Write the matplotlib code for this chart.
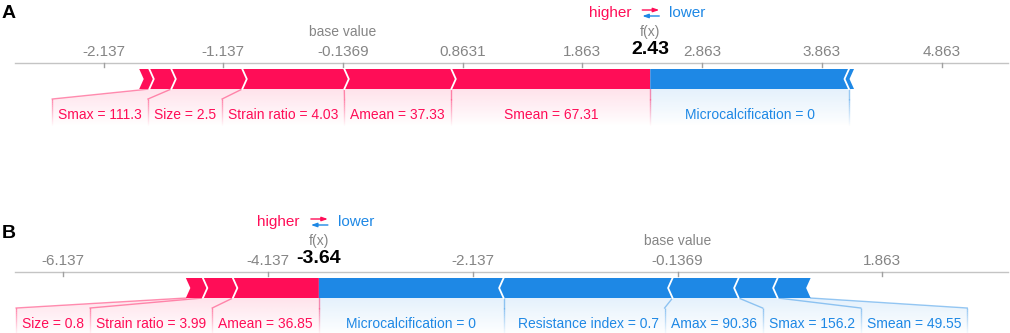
import numpy as np
import matplotlib
matplotlib.use('Agg')
import matplotlib.pyplot as plt
from matplotlib.patches import Polygon
from matplotlib.collections import LineCollection
from matplotlib.colors import to_rgb

plt.rcParams['font.family'] = ['Liberation Sans', 'DejaVu Sans']

RED = '#ff0d57'
BLUE = '#1e88e5'
GRAY = '#858585'

# Panel A: SHAP values, ordered from f(x) outward
a_base = -0.1369
a_fx = 2.43
a_pos_names = ['Smean = 67.31', 'Amean = 37.33', 'Strain ratio = 4.03',
               'Size = 2.5', 'Smax = 111.3', '']
a_pos_vals = [1.662, 0.894, 0.852, 0.593, 0.184, 0.084]
a_neg_names = ['Microcalcification = 0', '']
a_neg_vals = [1.660, 0.042]
a_ticks = [-2.137, -1.137, -0.1369, 0.8631, 1.863, 2.863, 3.863, 4.863]

# Panel B
b_base = -0.1369
b_fx = -3.64
b_pos_names = ['Amean = 36.85', 'Strain ratio = 3.99', 'Size = 0.8']
b_pos_vals = [0.840, 0.293, 0.166]
b_neg_names = ['Microcalcification = 0', 'Resistance index = 0.7',
               'Amax = 90.36', 'Smax = 156.2', 'Smean = 49.55']
b_neg_vals = [1.804, 1.650, 0.645, 0.381, 0.322]
b_ticks = [-6.137, -4.137, -2.137, -0.1369, 1.863]

fig = plt.figure(figsize=(10.1, 3.33), dpi=100)


def px(ax, v):
    return ax.transData.transform((v, 0))[0]


def unpx(ax, p):
    return ax.transData.inverted().transform((p, 0))[0]


def shade(ax, xs, ys, color, y_top, y_bot):
    poly = Polygon(list(zip(xs, ys)), closed=True, fc='none', ec='none')
    ax.add_patch(poly)
    grad = np.zeros((64, 2, 4))
    grad[..., :3] = to_rgb(color)
    grad[..., 3] = np.linspace(0.12, 0, 64)[:, None]
    im = ax.imshow(grad, extent=(min(xs), max(xs), y_bot, y_top), origin='upper',
                   aspect='auto', interpolation='bilinear', zorder=1)
    im.set_clip_path(poly)


def connector(ax, x_bar, x_lab, y_bar, color):
    ax.plot([x_bar, x_lab], [y_bar, y_bar + 10], color=color, alpha=0.45, lw=1, zorder=2)
    ys = np.linspace(y_bar + 10, y_bar + 38, 15)
    segs = [[(x_lab, ys[k]), (x_lab, ys[k + 1])] for k in range(len(ys) - 1)]
    alphas = np.linspace(0.45, 0.0, len(segs))
    cols = [(*to_rgb(color), a) for a in alphas]
    ax.add_collection(LineCollection(segs, colors=cols, lw=1, zorder=2))


def force_plot(ax, y0, base, fx, pos_names, pos_vals, neg_names, neg_vals, ticks):
    renderer = fig.canvas.get_renderer()
    top, bot, mid = y0 + 6, y0 + 26, y0 + 16
    scale = px(ax, 1) - px(ax, 0)
    dv = 4.5 / scale
    gap = 12
    fx_px = px(ax, fx)
    y_lab = y0 + 52
    y_end = bot + 38

    # axis with ticks
    ax.plot([unpx(ax, 15), unpx(ax, 1008)], [y0, y0], color='#c4c4c4', lw=1)
    for t in ticks:
        ax.plot([t, t], [y0, y0 + 4], color='#a0a0a0', lw=1)
        ax.text(t, y0 - 11, f'{t:.4g}', color=GRAY, fontsize=11, ha='center', va='center')

    # header
    ax.text(base, y0 - 31, 'base value', color=GRAY, fontsize=10, ha='center', va='center')
    ax.text(fx, y0 - 31, 'f(x)', color=GRAY, fontsize=10, ha='center', va='center')
    ax.text(fx, y0 - 13, f'{fx:.2f}', color='black', fontsize=14, fontweight='bold',
            ha='center', va='center')
    ax.text(unpx(ax, fx_px - 19), y0 - 50, 'higher', color=RED, fontsize=11,
            ha='right', va='center')
    ax.text(unpx(ax, fx_px + 19), y0 - 50, 'lower', color=BLUE, fontsize=11,
            ha='left', va='center')
    ax.annotate('', xy=(unpx(ax, fx_px + 9), y0 - 53), xytext=(unpx(ax, fx_px - 8), y0 - 53),
                arrowprops=dict(arrowstyle='-|>,head_length=0.35,head_width=0.12',
                                color=RED, lw=1, shrinkA=0, shrinkB=0))
    ax.annotate('', xy=(unpx(ax, fx_px - 8), y0 - 47), xytext=(unpx(ax, fx_px + 9), y0 - 47),
                arrowprops=dict(arrowstyle='-|>,head_length=0.35,head_width=0.12',
                                color=BLUE, lw=1, shrinkA=0, shrinkB=0))

    # red bars (push up, drawn leftwards from f(x))
    red_edges = fx - np.concatenate([[0], np.cumsum(pos_vals)])
    for i in range(len(pos_vals)):
        r, l = red_edges[i], red_edges[i + 1]
        tip = r + dv if i > 0 else r
        ax.add_patch(Polygon([(l, top), (r, top), (tip, mid), (r, bot), (l, bot), (l + dv, mid)],
                             closed=True, fc=RED, ec='none', zorder=3))
        if i > 0:
            ax.plot([r, r + dv, r], [top, mid, bot], color='white', lw=1.3, zorder=4)

    # blue bars (push down, drawn rightwards from f(x))
    blue_edges = fx + np.concatenate([[0], np.cumsum(neg_vals)])
    for i in range(len(neg_vals)):
        l, r = blue_edges[i], blue_edges[i + 1]
        tip = l - dv if i > 0 else l
        ax.add_patch(Polygon([(l, top), (r, top), (r - dv, mid), (r, bot), (l, bot), (tip, mid)],
                             closed=True, fc=BLUE, ec='none', zorder=3))
        if i > 0:
            ax.plot([l, l - dv, l], [top, mid, bot], color='white', lw=1.3, zorder=4)

    # red labels
    prev = fx_px + gap / 2
    red_lab = {}
    for i, name in enumerate(pos_names):
        if not name:
            continue
        t = ax.text(0, y_lab, name, color=RED, fontsize=10, ha='left', va='center')
        w = t.get_window_extent(renderer).width
        c = (px(ax, red_edges[i]) + px(ax, red_edges[i + 1])) / 2
        right = min(c + w / 2, prev - gap)
        left = right - w
        t.set_x(unpx(ax, left))
        red_lab[i] = (left, right)
        prev = left

    # blue labels
    prev = fx_px - gap / 2
    blue_lab = {}
    for i, name in enumerate(neg_names):
        if not name:
            continue
        t = ax.text(0, y_lab, name, color=BLUE, fontsize=10, ha='left', va='center')
        w = t.get_window_extent(renderer).width
        c = (px(ax, blue_edges[i]) + px(ax, blue_edges[i + 1])) / 2
        left = max(c - w / 2, prev + gap)
        t.set_x(unpx(ax, left))
        blue_lab[i] = (left, left + w)
        prev = left + w

    # connectors + shading, red side
    connector(ax, fx, fx, bot, RED)
    keys = sorted(red_lab)
    inner = fx_px
    for k, i in enumerate(keys):
        left, right = red_lab[i]
        b = px(ax, red_edges[i + 1])
        lo = red_lab[keys[k + 1]][1] + gap / 2 if k + 1 < len(keys) else -np.inf
        xl = min(max(b, lo), left - gap / 2)
        connector(ax, red_edges[i + 1], unpx(ax, xl), bot, RED)
        xs = [red_edges[i], red_edges[i + 1], unpx(ax, xl), unpx(ax, xl),
              unpx(ax, inner), unpx(ax, inner)]
        ys = [bot, bot, bot + 10, y_end, y_end, bot + 10]
        shade(ax, xs, ys, RED, bot, y_end)
        inner = xl

    # connectors + shading, blue side
    keys = sorted(blue_lab)
    inner = fx_px
    for k, i in enumerate(keys):
        left, right = blue_lab[i]
        b = px(ax, blue_edges[i + 1])
        hi = blue_lab[keys[k + 1]][0] - gap / 2 if k + 1 < len(keys) else np.inf
        xl = max(min(b, hi), right + gap / 2)
        connector(ax, blue_edges[i + 1], unpx(ax, xl), bot, BLUE)
        xs = [blue_edges[i], blue_edges[i + 1], unpx(ax, xl), unpx(ax, xl),
              unpx(ax, inner), unpx(ax, inner)]
        ys = [bot, bot, bot + 10, y_end, y_end, bot + 10]
        shade(ax, xs, ys, BLUE, bot, y_end)
        inner = xl


ax_a = fig.add_axes([0, 1 - 170 / 333, 1, 170 / 333])
ax_a.set_xlim(-3.002, 5.435)
ax_a.set_ylim(170, 0)
ax_a.set_autoscale_on(False)
ax_a.axis('off')

ax_b = fig.add_axes([0, 0, 1, 163 / 333])
ax_b.set_xlim(-6.754, 3.109)
ax_b.set_ylim(333, 170)
ax_b.set_autoscale_on(False)
ax_b.axis('off')

force_plot(ax_a, 63, a_base, a_fx, a_pos_names, a_pos_vals, a_neg_names, a_neg_vals, a_ticks)
force_plot(ax_b, 272, b_base, b_fx, b_pos_names, b_pos_vals, b_neg_names, b_neg_vals, b_ticks)

for ax, lims in ((ax_a, (-3.002, 5.435, 170, 0)), (ax_b, (-6.754, 3.109, 333, 170))):
    ax.set_xlim(lims[0], lims[1])
    ax.set_ylim(lims[2], lims[3])

fig.text(2 / 1010, 1 - 13 / 333, 'A', fontsize=14, fontweight='bold', va='center', ha='left')
fig.text(2 / 1010, 1 - 233 / 333, 'B', fontsize=14, fontweight='bold', va='center', ha='left')

fig.savefig('out.png', dpi=100)
